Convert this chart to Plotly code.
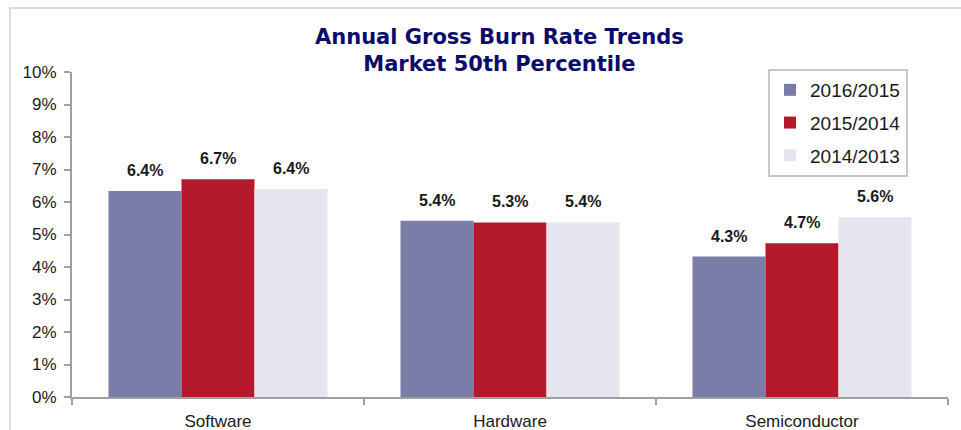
import plotly.graph_objects as go

categories = ["Software", "Hardware", "Semiconductor"]
series_names = ["2016/2015", "2015/2014", "2014/2013"]
values_2016_2015 = [0.0634, 0.0542, 0.0432]
values_2015_2014 = [0.0670, 0.0537, 0.0473]
values_2014_2013 = [0.0640, 0.0537, 0.0553]
labels_2016_2015 = ["6.4%", "5.4%", "4.3%"]
labels_2015_2014 = ["6.7%", "5.3%", "4.7%"]
labels_2014_2013 = ["6.4%", "5.4%", "5.6%"]
colors = ["#7B7DA9", "#B5192C", "#E5E5F0"]
y_ticks = [i / 100 for i in range(0, 11)]

series_values = [values_2016_2015, values_2015_2014, values_2014_2013]
series_labels = [labels_2016_2015, labels_2015_2014, labels_2014_2013]

W, H = 961, 430
ML, MR, MT, MB = 72, 13, 72, 33
BARGAP = 0.25
plot_w = W - ML - MR
plot_h = H - MT - MB
bar_px = plot_w / len(categories) * (1 - BARGAP) / len(series_names)

fig = go.Figure()
for i, (name, vals) in enumerate(zip(series_names, series_values)):
    fig.add_trace(go.Bar(
        x=categories, y=vals, name=name, marker_color=colors[i],
        marker_line_width=0, legendgroup=name,
    ))

annotations = []
for i, labs in enumerate(series_labels):
    for cat, v, lab in zip(categories, series_values[i], labs):
        annotations.append(dict(
            x=cat, y=v, xref="x", yref="y", text="<b>%s</b>" % lab,
            showarrow=False, yanchor="bottom", xanchor="center",
            xshift=(i - 1) * bar_px, yshift=10,
            font=dict(family="Liberation Sans, Arial", size=16, color="#1a1a1a"),
        ))

annotations.append(dict(
    x=(499 - ML) / plot_w, y=1.0, xref="paper", yref="paper",
    text="<b>Annual Gross Burn Rate Trends<br>Market 50th Percentile</b>",
    showarrow=False, xanchor="center", yanchor="bottom", yshift=-6,
    font=dict(family="DejaVu Sans", size=21, color="#0B0B6B"),
))

fig.add_shape(type="rect", xref="paper", yref="paper",
              x0=(10 - ML) / plot_w, x1=1.2, y0=-0.3, y1=(H - MB - 8) / plot_h,
              line=dict(color="#DCDCDC", width=2), fillcolor="rgba(0,0,0,0)",
              layer="below")

fig.update_layout(
    width=W, height=H,
    margin=dict(l=ML, r=MR, t=MT, b=MB, autoexpand=False),
    paper_bgcolor="white", plot_bgcolor="white",
    barmode="group", bargap=BARGAP, bargroupgap=0,
    font=dict(family="Liberation Sans, Arial", size=17, color="#1a1a1a"),
    showlegend=True,
    legend=dict(
        x=(768 - ML) / plot_w, y=(H - MB - 69) / plot_h,
        xanchor="left", yanchor="top",
        bgcolor="white", bordercolor="#C8C8C8", borderwidth=2,
        font=dict(size=19, color="#1a1a1a"),
        traceorder="grouped", tracegroupgap=5,
        itemwidth=30,
    ),
    annotations=annotations,
    xaxis=dict(
        automargin=False,
        showline=True, linecolor="#A0A0A0", linewidth=2,
        ticks="outside", tickson="boundaries", ticklen=6,
        tickcolor="#A0A0A0", tickwidth=2, showgrid=False,
        tickfont=dict(size=17), ticklabelstandoff=8,
    ),
    yaxis=dict(
        automargin=False,
        range=[0, 0.10], tickvals=y_ticks, tickformat=".0%",
        showline=True, linecolor="#A0A0A0", linewidth=2,
        ticks="outside", ticklen=6, tickcolor="#A0A0A0", tickwidth=2,
        showgrid=False, zeroline=False, tickfont=dict(size=17),
        ticklabelstandoff=4,
    ),
)

fig.write_html("out.html")
